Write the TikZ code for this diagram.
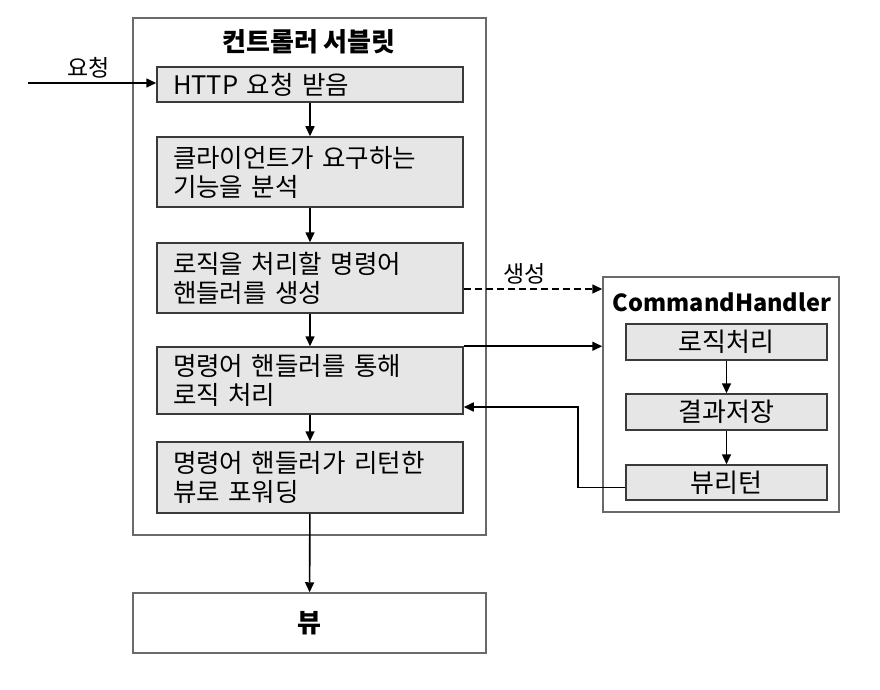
\documentclass[tikz,border=0pt]{standalone}
\usepackage{fontspec}
\setmainfont{Noto Sans CJK KR}
\usetikzlibrary{arrows.meta}

\definecolor{boxfill}{HTML}{E6E6E6}
\definecolor{boxline}{HTML}{3A3A3A}
\definecolor{frameline}{HTML}{6A6A6A}

\tikzset{
  frame/.style = {draw = frameline, line width = 1.5pt, minimum width = 353pt},
  stepbox/.style = {draw = boxline, fill = boxfill, line width = 1.5pt,
    inner xsep = 16pt, text width = 274pt, align = left,
    font = \fontsize{25.5}{29}\selectfont},
  taskbox/.style = {draw = boxline, fill = boxfill, line width = 1.5pt,
    minimum width = 201pt, minimum height = 36pt, inner sep = 0pt,
    font = \fontsize{26}{29}\selectfont},
  lbl/.style = {font = \fontsize{23}{29}\selectfont},
  arr/.style = {-{Triangle[length = 10pt, width = 9pt]}, line width = 1.6pt}
}

\begin{document}
\begin{tikzpicture}[x = 1pt, y = -1pt]
  \useasboundingbox (0, 0) rectangle (880, 690);
  % controller servlet
  \node[frame, minimum height = 517pt] (servlet) at (309.5, 276.5) {};
  \node[font = \fontsize{26}{29}\bfseries] (servlettitle) at (309, 42) {컨트롤러 서블릿};
  \node[stepbox, minimum height = 35pt] (b1) at (310, 84.5) {HTTP 요청 받음};
  \node[stepbox, minimum height = 70pt] (b2) at (310, 172) {클라이언트가 요구하는\\기능을 분석};
  \node[stepbox, minimum height = 70pt] (b3) at (310, 278) {로직을 처리할 명령어\\핸들러를 생성};
  \node[stepbox, minimum height = 67pt] (b4) at (310, 380.5) {명령어 핸들러를 통해\\로직 처리};
  \node[stepbox, minimum height = 71pt] (b5) at (310, 477.5) {명령어 핸들러가 리턴한\\뷰로 포워딩};
  % view
  \node[frame, minimum height = 60pt, font = \fontsize{26}{29}\bfseries] (view) at (309.5, 623) {뷰};
  % command handler
  \node[draw = frameline, line width = 1.5pt, minimum width = 236pt, minimum height = 235pt] (handler) at (721, 394.5) {};
  \node[font = \fontsize{23.5}{29}\bfseries] (handlertitle) at (722, 302) {CommandHandler};
  \node[taskbox] (h1) at (726.5, 342) {로직처리};
  \node[taskbox] (h2) at (726.5, 412) {결과저장};
  \node[taskbox, minimum height = 35pt] (h3) at (726.5, 482.5) {뷰리턴};

  % request
  \coordinate (req) at (28, 83);
  \draw[arr] (req) -- (req -| b1.west) node[pos = 0.47, above = 1pt, lbl] {요청};
  \foreach \from/\to in {b1/b2, b2/b3, b3/b4, b4/b5, b5/view, h1/h2, h2/h3}
    \draw[arr] (\from) -- (\to);
  \draw[arr, dash pattern = on 7pt off 4pt] ([yshift = -11pt]b3.east) -- ([yshift = -11pt]b3.east -| handler.west)
    node[pos = 0.44, above = 1pt, lbl] {생성};
  \draw[arr] (b4.north east) -- (b4.north east -| handler.west);
  \draw[arr] ([yshift = -5pt]h3.west) -- ++(-47, 0) |- ([yshift = -26.5pt]b4.east);
\end{tikzpicture}
\end{document}
